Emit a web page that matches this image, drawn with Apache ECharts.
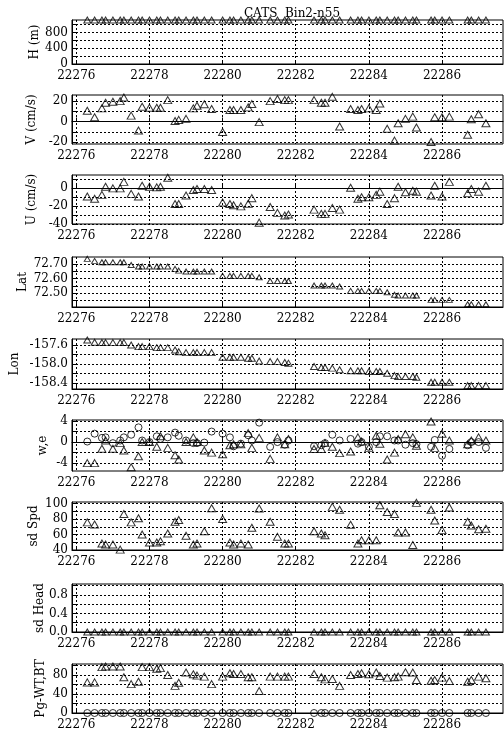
<!DOCTYPE html>
<html><head><meta charset="utf-8">
<script src="https://cdn.jsdelivr.net/npm/echarts@6/dist/echarts.min.js"></script>
<style>html,body{margin:0;padding:0;background:#fff}#c{width:504px;height:736px}</style>
</head><body><div id="c"></div>
<script>
// ---- data ----
const times = [22276.3,22276.5,22276.7,22276.8,22277.0,22277.2,22277.3,22277.5,22277.7,22277.8,
  22278.0,22278.2,22278.3,22278.5,22278.7,22278.8,22279.0,22279.2,22279.3,22279.5,22279.7,
  22280.0,22280.2,22280.3,22280.5,22280.7,22280.8,22281.0,22281.3,22281.5,22281.7,22281.8,
  22282.5,22282.7,22282.8,22283.0,22283.2,22283.5,22283.7,22283.8,
  22284.0,22284.2,22284.3,22284.5,22284.7,22284.8,22285.0,22285.2,22285.3,
  22285.7,22285.8,22286.0,22286.2,22286.7,22286.8,22287.0,22287.2];
const depthH = [1120,1120,1120,1120,1120,1120,1120,1120,1120,1120,1120,1120,1120,1120,1120,1120,1120,1120,1120,1120,
  1120,1120,1120,1120,1120,1120,1120,1120,1120,1120,1120,1120,1120,1120,1120,1120,1120,1120,1120,1120,
  1120,1120,1120,1120,1120,1120,1120,1120,1120,1120,1120,1120,1120,1120,1120,1120,1120];
const velV = [10.6,4.2,12.9,18.4,19.4,20,23.5,5.8,-8.7,14.5,13.5,13.5,13.5,21,0.6,1.6,2.6,12.9,15.5,17,
  12.3,-10.3,11.3,11.3,11.3,13.9,17.1,-0.6,20,22,21,21,21,18.4,18.4,24.2,-4.8,12.3,11.3,12.3,
  12.9,11.3,17.7,-7.1,-18.7,-1.6,2.6,4.8,-5.8,-20,4.2,4.2,4.8,-12.9,2.3,7.1,-1.6];
const velU = [-9.2,-11.7,-7.3,1.8,0,0,7.3,-6.2,-9.2,2.9,1.8,1.1,1.8,12,-17.6,-17.6,-8.1,-1.8,-0.7,-0.7,
  -1.8,-15.8,-17.6,-19,-20.2,-17.2,-11,-38.5,-21,-27.5,-30.5,-29.4,-23.9,-28.6,-28.6,-22,-23.9,0.7,-11.7,-9.9,
  -9.9,-7.3,-3.7,-17.6,-11,1.8,-4.4,-2.6,-3.7,-8.1,2.9,-9.2,7.3,-5.5,-0.7,-3.7,2.9];
const lat = [72.737,72.723,72.714,72.714,72.714,72.714,72.714,72.695,72.684,72.684,72.684,72.684,72.684,72.684,
  72.668,72.656,72.65,72.65,72.65,72.65,72.65,72.62,72.62,72.62,72.62,72.62,72.62,72.61,
  72.584,72.584,72.584,72.584,72.553,72.553,72.553,72.553,72.546,72.516,72.516,72.516,72.516,72.516,72.516,
  72.507,72.489,72.484,72.484,72.484,72.484,72.454,72.454,72.454,72.454,72.424,72.424,72.424,72.424];
const lon = [-157.496,-157.544,-157.55,-157.55,-157.55,-157.55,-157.55,-157.6,-157.635,-157.635,-157.635,
  -157.656,-157.656,-157.656,-157.704,-157.74,-157.76,-157.76,-157.76,-157.76,-157.76,
  -157.857,-157.857,-157.857,-157.857,-157.878,-157.878,-157.934,-157.948,-157.948,-157.965,-157.98,
  -158.049,-158.07,-158.07,-158.083,-158.118,-158.14,-158.14,-158.14,-158.153,-158.153,-158.153,
  -158.19,-158.24,-158.26,-158.26,-158.26,-158.275,-158.38,-158.38,-158.38,-158.38,-158.45,-158.45,-158.45,-158.45];
const wVel = [-4,-4,-1.26,0.3,-1.26,-0.2,-1.6,-4.8,-2.7,0,0,-0.9,1.1,-1.1,-2.5,-3.3,0,0.9,0,-1.6,
  -2,-2.3,-0.6,-0.4,-0.4,1.7,-1.1,0.8,-3.2,0.9,-0.4,0.6,-1.3,-1.3,-0.2,-0.9,-2.1,-1.8,0.9,0.1,
  -1.1,1.2,-0.3,-3.3,-2,0.6,1.5,0.9,-0.7,3.9,-1.1,1.6,0.3,-0.4,0.3,0.9,0.3];
const eVel = [0.1,1.6,0.8,0.9,-0.2,0.3,0.9,1.4,2.8,0.3,0,1.1,0.6,0.9,1.8,1.2,0.3,-0.2,-0.2,-0.1,
  2.0,1.6,0.9,-0.8,-0.3,1.3,0.3,3.7,-0.9,0,-0.5,0.3,-0.8,-0.6,-0.2,1.4,0.3,0.6,-0.3,0,
  -0.9,0,1.1,1.1,0.3,0.3,-0.5,-0.2,-0.4,-0.9,0.4,-2.6,-1.3,-0.6,0,0,-1.1];
const sdSpd = [75.7,73,48.3,47,47,40.5,86.5,75.7,81,60,49.6,49.6,51.3,61.3,76.5,78.7,58.3,47,48.3,64.3,
  94,80,49.6,47,48.3,47,68.7,93.5,76.5,57,48.3,48.3,64.3,61.3,59,95.7,92,72.6,48.3,52.6,
  52.6,52.6,97.8,89,86.5,62.6,62.6,46.5,100.9,92,78,65.7,95,76.5,71.7,66.9,67.4];
const sdHead = [0,0,0,0,0,0,0,0,0,0,0,0,0,0,0,0,0,0,0,0,0,0,0,0,0,0,0,0,0,0,0,0,0,0,0,0,0,0,0,0,
  0,0,0,0,0,0,0,0,0,0,0,0,0,0,0,0,0];
const pgWT = [64.3,64.3,96.4,97.9,97.9,97.9,75,60.7,65.7,96.4,96.4,92.9,94.3,80,57,63.6,85,81.4,78.6,76.4,
  60.7,76.4,83.6,82.1,82.1,75,75,46.4,76.4,76.4,76.4,76.4,82.1,75,70.7,71.4,57,80,82.1,83.6,
  81.4,85,77.9,74.3,75,76.4,85.7,85,69.3,67.9,69.3,74.3,67.1,65.7,69.3,76.4,72.9];
const pgBT = [0,0,0,0,0,0,0,0,0,0,0,0,0,0,0,0,0,0,0,0,0,0,0,0,0,0,0,0,0,0,0,0,0,0,0,0,0,0,0,0,
  0,0,0,0,0,0,0,0,0,0,0,0,0,0,0,0,0];
const xTicks = [22276,22278,22280,22282,22284,22286];
const titleText = 'CATS  Bin2-n55';
const names = ['H (m)','V (cm/s)','U (cm/s)','Lat','Lon','w,e','sd Spd','sd Head','Pg-WT,BT'];
const yGridVals = [[0,200,400,600,800,1000],[-20,-10,0,10,20],[-40,-30,-20,-10,0,10],
  [72.45,72.5,72.55,72.6,72.65,72.7],[-158.4,-158.2,-158.0,-157.8,-157.6],[-4,-2,0,2,4],
  [40,50,60,70,80,90,100],[0,0.2,0.4,0.6,0.8,1.0],[0,20,40,60,80,100]];
const yLabelVals = [[0,400,800],[-20,0,20],[-40,-20,0],[72.5,72.6,72.7],[-158.4,-158.0,-157.6],
  [-4,0,4],[40,60,80,100],[0.0,0.4,0.8],[0,40,80]];

// ---- layout / style ----
const FONT = 'DejaVu Serif';
const FS = 12;
const panelTop = [20,95,175,257,339,420,502,584,664];
const panelH = [44,49,49,50,50,51,48,48,49];
const yMin = [0,-22,-40,72.405,-158.52,-5.5,40,0,0];
const yMax = [1120,26,15,72.75,-157.475,4.2,102,1.035,103];
const yDec = [0,0,0,2,1,0,0,1,0];
const nameGap = [31,34.5,34.5,43,51.5,23,32,26.5,25];
const X0 = 22275.882, X1 = 22287.667;

const seriesSpec = [
  [{d: depthH, s: 'triangle', z: [7,6]}],
  [{d: velV, s: 'triangle', z: [8,7]}],
  [{d: velU, s: 'triangle', z: [8,7]}],
  [{d: lat, s: 'triangle', z: [6,5]}],
  [{d: lon, s: 'triangle', z: [7,6]}],
  [{d: wVel, s: 'triangle', z: [8,7]}, {d: eVel, s: 'circle', z: 7}],
  [{d: sdSpd, s: 'triangle', z: [8,7]}],
  [{d: sdHead, s: 'triangle', z: [7,6]}],
  [{d: pgWT, s: 'triangle', z: [8,7]}, {d: pgBT, s: 'circle', z: 7}]
];

const grids = [], xAxes = [], yAxes = [], series = [];
const dotted = {color: '#000', width: 1, type: [2, 2]};
for (let i = 0; i < 9; i++) {
  grids.push({left: 72, top: panelTop[i], width: 431, height: panelH[i], show: true,
    borderColor: '#000', borderWidth: 1, backgroundColor: 'transparent'});
  xAxes.push({type: 'value', gridIndex: i, min: X0, max: X1,
    axisLine: {show: true, lineStyle: {color: '#000', width: 1}},
    axisTick: {show: true, inside: true, length: 4, customValues: xTicks, lineStyle: {color: '#000'}},
    axisLabel: {customValues: xTicks, margin: 6, color: '#000', fontFamily: FONT, fontSize: FS,
      formatter: v => String(Math.round(v))},
    splitLine: {show: true, lineStyle: dotted}});
  const dec = yDec[i];
  yAxes.push({type: 'value', gridIndex: i, min: yMin[i], max: yMax[i],
    name: names[i], nameLocation: 'middle', nameGap: nameGap[i], nameRotate: 90,
    nameMoveOverlap: false,
    nameTextStyle: {color: '#000', fontFamily: FONT, fontSize: FS},
    axisLine: {show: true, lineStyle: {color: '#000', width: 1}},
    axisTick: {show: true, inside: true, length: 4, customValues: yGridVals[i], lineStyle: {color: '#000'}},
    axisLabel: {customValues: yLabelVals[i], margin: 4, color: '#000', fontFamily: FONT, fontSize: FS,
      formatter: v => Number(v).toFixed(dec)},
    splitLine: {show: true, lineStyle: dotted}});
  seriesSpec[i].forEach(sp => {
    series.push({type: 'scatter', xAxisIndex: i, yAxisIndex: i, symbol: sp.s, symbolSize: sp.z,
      clip: false, silent: true,
      itemStyle: {color: 'rgba(0,0,0,0)', borderColor: '#000', borderWidth: 1},
      data: times.map((t, k) => [t, sp.d[k]])});
  });
}

const chart = echarts.init(document.getElementById('c'), null, {renderer: 'canvas'});
chart.setOption({
  animation: false,
  backgroundColor: '#fff',
  title: {text: titleText, left: 287, top: 3, textAlign: 'center',
    textStyle: {color: '#000', fontFamily: FONT, fontSize: FS, fontWeight: 'normal'}},
  grid: grids, xAxis: xAxes, yAxis: yAxes, series: series
});
</script></body></html>
